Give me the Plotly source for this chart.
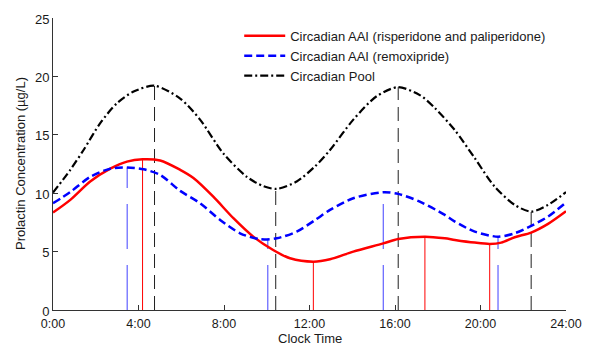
import plotly.graph_objects as go

# --- data ---
red_hours = [0, 0.81, 1.74, 2.68, 3.46, 4.19, 5.01, 5.95, 6.57, 7.5, 8.44, 9.37, 10.3, 11.09,
             12.18, 12.96, 14.05, 15.45, 16.15, 17.4, 18.33, 18.8, 19.73, 20.43, 20.97, 21.6,
             22.37, 23.16, 24]
red_vals = [8.34, 9.43, 11.0, 12.1, 12.7, 12.9, 12.8, 12.0, 11.3, 9.7, 7.86, 6.28, 5.14, 4.43,
            4.14, 4.34, 5.0, 5.7, 6.08, 6.28, 6.14, 6.0, 5.77, 5.66, 5.77, 6.23,
            6.63, 7.37, 8.45]

blue_hours = [0, 0.81, 1.74, 2.68, 3.46, 4.24, 5.01, 5.95, 6.88, 7.82, 8.75, 9.69, 10.47, 11.4,
              12.26, 12.96, 14.05, 15.45, 16.15, 17.16, 18.33, 18.8, 19.73, 20.82, 21.6, 22.37,
              23.16, 24]
blue_vals = [9.14, 10.1, 11.4, 12.1, 12.2, 12.05, 11.57, 10.2, 9.14, 7.71, 6.57, 6.06, 6.14, 6.71,
             7.7, 8.57, 9.57, 10.08, 9.94, 9.28, 8.14, 7.57, 6.71, 6.28, 6.57, 7.2,
             8.0, 9.2]

black_hours = [0, 0.81, 1.43, 2.21, 2.99, 3.77, 4.75, 5.95, 6.88, 7.97, 9.07, 9.84, 10.47, 11.4,
               12.26, 12.96, 14.05, 15.14, 16.15, 17.16, 17.86, 18.8, 19.73, 20.66, 21.6, 22.37,
               23.16, 24]
black_vals = [10.05, 12.0, 13.7, 16.0, 17.7, 18.7, 19.2, 18.1, 16.3, 13.4, 11.4, 10.6, 10.37, 11.0,
              12.3, 13.7, 16.3, 18.3, 19.08, 18.4, 17.3, 15.4, 13.0, 10.57, 9.0, 8.42,
              9.0, 10.1]

# vertical marker lines (time of extremum, height)
red_mark_hours = [4.19, 12.18, 17.4, 20.43]
red_mark_vals = [12.9, 4.14, 6.28, 5.66]
blue_mark_hours = [3.47, 10.05, 15.45, 20.82]
blue_mark_vals = [12.2, 6.06, 10.08, 6.28]
black_mark_hours = [4.75, 10.42, 16.15, 22.37]
black_mark_vals = [19.2, 10.37, 19.08, 8.42]

tick_hours = [0, 4, 8, 12, 16, 20, 24]
tick_labels = ["0:00", "4:00", "8:00", "12:00", "16:00", "20:00", "24:00"]

names = ["Circadian AAI (risperidone and paliperidone)",
         "Circadian AAI (remoxipride)",
         "Circadian Pool"]
x_title = "Clock Time"
y_title = "Prolactin Concentration (µg/L)"


def vlines(xs, ys):
    X, Y = [], []
    for x, y in zip(xs, ys):
        X += [x, x, None]
        Y += [0, y, None]
    return X, Y


fig = go.Figure()

for xs, ys, col, dash in [(red_mark_hours, red_mark_vals, "#ff0000", "solid"),
                          (blue_mark_hours, blue_mark_vals, "#4040ff", "45px,16px"),
                          (black_mark_hours, black_mark_vals, "#202020", "14px,7px")]:
    X, Y = vlines(xs, ys)
    fig.add_trace(go.Scatter(x=X, y=Y, mode="lines", showlegend=False, hoverinfo="skip",
                             line=dict(color=col, width=1, dash=dash)))

fig.add_trace(go.Scatter(x=red_hours, y=red_vals, mode="lines", name=names[0],
                         line=dict(color="#ff0000", width=2.5, shape="spline", smoothing=0.8)))
fig.add_trace(go.Scatter(x=blue_hours, y=blue_vals, mode="lines", name=names[1],
                         line=dict(color="#0000ff", width=2.5, dash="8px,4px",
                                   shape="spline", smoothing=0.8)))
fig.add_trace(go.Scatter(x=black_hours, y=black_vals, mode="lines", name=names[2],
                         line=dict(color="#000000", width=2.2, dash="8px,3px,2px,3px",
                                   shape="spline", smoothing=0.8)))

# the page body has an 8px margin, so the figure is sized/margined to compensate
fig.update_layout(
    width=582, height=337,
    margin=dict(l=45, r=24, t=10, b=35),
    paper_bgcolor="white", plot_bgcolor="white",
    font=dict(family="Liberation Sans, Arial, sans-serif", size=13, color="#1a1a1a"),
    showlegend=True,
    legend=dict(x=0.363, y=0.99, xanchor="left", yanchor="top", itemwidth=41,
                bgcolor="rgba(0,0,0,0)", font=dict(size=13), tracegroupgap=0),
    xaxis=dict(range=[0, 24], tickvals=tick_hours, ticktext=tick_labels,
               ticks="inside", ticklen=5, tickcolor="#333333", automargin=False,
               showline=True, linecolor="#333333", linewidth=1, mirror=False,
               showgrid=False, zeroline=False, ticklabelstandoff=2,
               tickfont=dict(size=12.5)),
    yaxis=dict(range=[0, 25], dtick=5, ticks="inside", ticklen=5, tickcolor="#333333",
               showline=True, linecolor="#333333", linewidth=1, mirror=False, automargin=False,
               showgrid=False, zeroline=False, ticklabelshift=1),
    annotations=[
        dict(text=x_title, xref="paper", yref="paper", x=0.5, y=0, yshift=-28,
             xanchor="center", yanchor="middle", showarrow=False, font=dict(size=13)),
        dict(text=y_title, xref="paper", yref="paper", x=0, y=0.5, xshift=-33,
             xanchor="center", yanchor="middle", textangle=-90, showarrow=False,
             font=dict(size=13)),
    ],
)

fig.write_html("out.html")
